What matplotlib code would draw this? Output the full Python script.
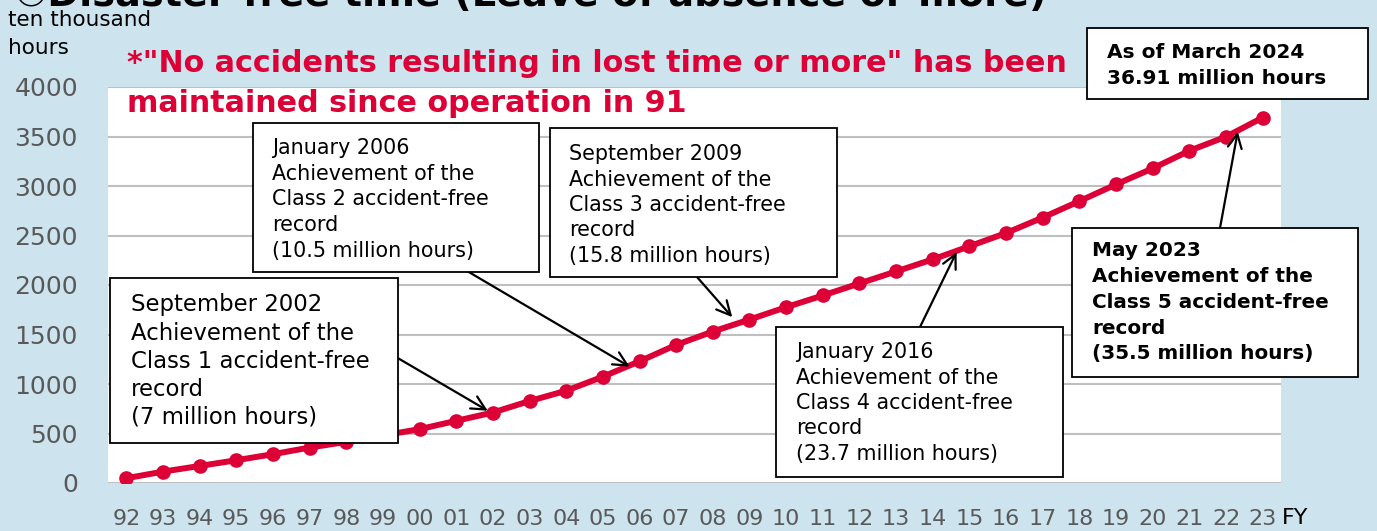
import matplotlib
matplotlib.use("Agg")
import matplotlib.pyplot as plt
from matplotlib.patches import Rectangle

# fiscal years and cumulative disaster-free hours (ten thousand hours)
years = ["92", "93", "94", "95", "96", "97", "98", "99", "00", "01", "02",
         "03", "04", "05", "06", "07", "08", "09", "10", "11", "12", "13",
         "14", "15", "16", "17", "18", "19", "20", "21", "22", "23"]
hours = [48, 115, 172, 230, 291, 358, 415, 480, 544, 628, 712,
         828, 932, 1074, 1229, 1395, 1530, 1651, 1776, 1894, 2016, 2137,
         2259, 2391, 2525, 2681, 2847, 3016, 3178, 3356, 3498, 3691]
yticks = [0, 500, 1000, 1500, 2000, 2500, 3000, 3500, 4000]

title = "\u2460Disaster-free time (Leave of absence or more)"
unit_lines = ["ten thousand", "hours"]
note_lines = ['*"No accidents resulting in lost time or more" has been',
              "maintained since operation in 91"]

box1 = ["September 2002", "Achievement of the", "Class 1 accident-free",
        "record", "(7 million hours)"]
box2 = ["January 2006", "Achievement of the", "Class 2 accident-free",
        "record", "(10.5 million hours)"]
box3 = ["September 2009", "Achievement of the", "Class 3 accident-free",
        "record", "(15.8 million hours)"]
box4 = ["January 2016", "Achievement of the", "Class 4 accident-free",
        "record", "(23.7 million hours)"]
box5 = ["May 2023", "Achievement of the", "Class 5 accident-free",
        "record", "(35.5 million hours)"]
box6 = ["As of March 2024", "36.91 million hours"]

RED = "#dc0037"
BG = "#cde4ee"
W, H = 1377, 531


def fx(x):
    return x / W


def fy(y):
    return 1 - y / H


fig = plt.figure(figsize=(W / 100, H / 100), dpi=100, facecolor=BG)
ax = fig.add_axes([fx(108), fy(483), fx(1281) - fx(108), fy(87) - fy(483)])
ax.set_facecolor("white")

xs = list(range(len(years)))
ax.plot(xs, hours, color=RED, lw=4.3, marker="o", ms=9.5, zorder=3)

ax.set_xlim(-0.5, len(years) - 0.5)
ax.set_ylim(0, 4000)
ax.set_yticks(yticks)
ax.set_yticklabels([str(v) for v in yticks], fontsize=18, color="#595959")
ax.set_xticks(xs)
ax.set_xticklabels(years, fontsize=16, color="#595959")
ax.tick_params(axis="y", length=0, pad=21.6)
ax.tick_params(axis="x", length=0, pad=19)
ax.grid(axis="y", color="#bfbfbf", lw=1.5)
ax.set_axisbelow(True)
for s in ax.spines.values():
    s.set_visible(False)

fig.text(fx(1282), fy(518), "FY", fontsize=16, color="black", va="center")

# title cut off at the top
fig.text(fx(15), fy(6), title, fontsize=27.5, fontweight="bold", va="baseline",
         family=["DejaVu Sans", "Noto Sans CJK JP"])

fig.text(fx(8), fy(20), unit_lines[0], fontsize=15.5, va="center")
fig.text(fx(8), fy(48), unit_lines[1], fontsize=15.5, va="center")

fig.text(fx(127), fy(64), note_lines[0], fontsize=21.7, fontweight="bold",
         color=RED, va="center")
fig.text(fx(127), fy(103), note_lines[1], fontsize=21.7, fontweight="bold",
         color=RED, va="center")


def draw_box(lines, left, top, right, bottom, tx, ty, dy, size, weight="normal"):
    fig.patches.append(Rectangle((fx(left), fy(bottom)), fx(right) - fx(left),
                                 fy(top) - fy(bottom), transform=fig.transFigure,
                                 facecolor="white", edgecolor="black", lw=1.3,
                                 zorder=5))
    for i, line in enumerate(lines):
        fig.text(fx(tx), fy(ty + i * dy), line, fontsize=size,
                 fontweight=weight, va="center", zorder=6)


draw_box(box1, 110, 278, 398, 443, 131, 305, 28, 16.4)
draw_box(box2, 253, 123, 539, 272, 272, 148, 25.7, 14.9)
draw_box(box3, 550, 128, 837, 277, 569, 154, 25.5, 14.9)
draw_box(box4, 776, 327, 1063, 477, 796, 352, 25.5, 14.9)
draw_box(box5, 1072, 228, 1358, 377, 1092, 251, 25.7, 14.4, "bold")
draw_box(box6, 1087, 28, 1368, 99, 1107, 52.5, 25.5, 14.5, "bold")

# arrows from boxes to the line
arrows = [((9.86, 730), (396, 357)),
          ((13.73, 1175), (462, 268)),
          ((16.53, 1675), (697, 277)),
          ((22.65, 2333), (920, 327)),
          ((30.32, 3549), (1220, 228))]
for tip, tail in arrows:
    ax.annotate("", xy=tip, xycoords="data",
                xytext=(fx(tail[0]), fy(tail[1])), textcoords="figure fraction",
                arrowprops=dict(arrowstyle="->", color="black", lw=1.6,
                                mutation_scale=25, shrinkA=0, shrinkB=0),
                zorder=7)

fig.savefig("out.png", dpi=100, facecolor=BG)
